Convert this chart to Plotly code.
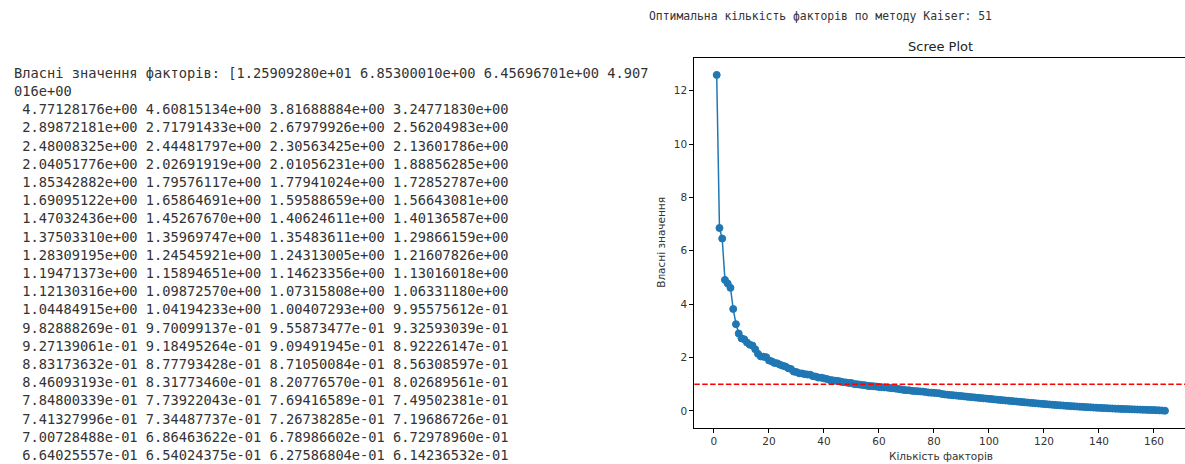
import plotly.graph_objects as go

# ---------------- data ----------------
eigenvalues = [
    12.5909280, 6.85300010, 6.45696701, 4.90750016,
    4.77128176, 4.60815134, 3.81688884, 3.24771830,
    2.89872181, 2.71791433, 2.67979926, 2.56204983,
    2.48008325, 2.44481797, 2.30563425, 2.13601786,
    2.04051776, 2.02691919, 2.01056231, 1.88856285,
    1.85342882, 1.79576117, 1.77941024, 1.72852787,
    1.69095122, 1.65864691, 1.59588659, 1.56643081,
    1.47032436, 1.45267670, 1.40624611, 1.40136587,
    1.37503310, 1.35969747, 1.35483611, 1.29866159,
    1.28309195, 1.24545921, 1.24313005, 1.21607826,
    1.19471373, 1.15894651, 1.14623356, 1.13016018,
    1.12130316, 1.09872570, 1.07315808, 1.06331180,
    1.04484915, 1.04194233, 1.00407293, 0.995575612,
    0.982888269, 0.970099137, 0.955873477, 0.932593039,
    0.927139061, 0.918495264, 0.909491945, 0.892226147,
    0.883173632, 0.877793428, 0.871050084, 0.856308597,
    0.846093193, 0.831773460, 0.820776570, 0.802689561,
    0.784800339, 0.773922043, 0.769416589, 0.749502381,
    0.741327996, 0.734487737, 0.726738285, 0.719686726,
    0.700728488, 0.686463622, 0.678986602, 0.672978960,
    0.664025557, 0.654024375, 0.627586804, 0.614236532,
    # values below (not printed in the visible text)
    0.603, 0.594, 0.582, 0.573, 0.561, 0.552, 0.541, 0.530,
    0.519, 0.510, 0.498, 0.489, 0.478, 0.468, 0.459, 0.449,
    0.439, 0.428, 0.418, 0.409, 0.398, 0.388, 0.379, 0.368, 0.358, 0.349,
    0.339, 0.330, 0.319, 0.310, 0.301, 0.291, 0.282, 0.272, 0.264, 0.255,
    0.246, 0.238, 0.229, 0.221, 0.213, 0.205, 0.197, 0.190, 0.182, 0.175,
    0.168, 0.161, 0.154, 0.148, 0.141, 0.135, 0.129, 0.123, 0.117, 0.112,
    0.106, 0.101, 0.096, 0.091, 0.086, 0.081, 0.077, 0.072, 0.068, 0.064,
    0.060, 0.056, 0.052, 0.048, 0.045, 0.041, 0.038, 0.034, 0.031, 0.027,
    0.022, 0.017, 0.011, 0.004,
]
factor_numbers = list(range(1, len(eigenvalues) + 1))
kaiser_threshold = 1.0
kaiser_count = sum(1 for v in eigenvalues if v > kaiser_threshold)

x_ticks = [0, 20, 40, 60, 80, 100, 120, 140, 160]
y_ticks = [0, 2, 4, 6, 8, 10, 12]

title_text = "Scree Plot"
x_label = "Кількість факторів"
y_label = "Власні значення"
kaiser_label = "Оптимальна кількість факторів по методу Kaiser: "
values_label = "Власні значення факторів: ["
visible_rows = 20

# ---------------- layout helpers ----------------
W, H = 1185, 464


def px(x):
    return x / W


def py(y):
    return 1 - y / H


# axes box in pixels (matplotlib-like 5% margins)
ax_left, ax_right = 694.3, 1187.4
ax_top, ax_bottom = 58.1, 427.5
n = len(eigenvalues)
x_lo = 1 - 0.05 * (n - 1)
x_hi = n + 0.05 * (n - 1)
x_vis_hi = x_lo + (W - ax_left) * (x_hi - x_lo) / (ax_right - ax_left)
ymin_d, ymax_d = min(eigenvalues), max(eigenvalues)
y_lo = ymin_d - 0.05 * (ymax_d - ymin_d)
y_hi = ymax_d + 0.05 * (ymax_d - ymin_d)

blue = "#1f77b4"
tick_font = dict(family="DejaVu Sans", size=10.5, color="#333333")

fig = go.Figure()
fig.add_trace(go.Scatter(
    x=factor_numbers, y=eigenvalues, mode="lines+markers",
    line=dict(color=blue, width=1.5),
    marker=dict(color=blue, size=7, line=dict(color=blue, width=1)),
    showlegend=False, hoverinfo="x+y",
))

fig.add_shape(type="line", xref="x domain", yref="y", x0=0, x1=1,
              y0=kaiser_threshold, y1=kaiser_threshold,
              line=dict(color="red", width=1.5, dash="5.5px,2.4px"),
              layer="above")

annotations = []
mono = "DejaVu Sans Mono"
text_color = "#333333"

# printed text (left)
fmt = [f"{v:.8e}" for v in eigenvalues]
first_line = values_label + " ".join(fmt[:4])
lines = [first_line[:77], fmt[3][-7:]]
for r in range(visible_rows):
    row = fmt[4 + 4 * r: 8 + 4 * r]
    lines.append(" " + " ".join(row))
for k, t in enumerate(lines):
    annotations.append(dict(
        x=px(12.0), y=py(72.8 + k * 18.2), xref="paper", yref="paper",
        text=t.replace(" ", "&nbsp;"), showarrow=False, xanchor="left", yanchor="middle",
        font=dict(family=mono, size=13.7, color=text_color),
    ))

# Kaiser text (top)
annotations.append(dict(
    x=px(646.5), y=py(16.5), xref="paper", yref="paper",
    text=(kaiser_label + str(kaiser_count)).replace(" ", "&nbsp;"),
    showarrow=False, xanchor="left", yanchor="middle",
    font=dict(family=mono, size=11.4, color=text_color),
))

# title and axis labels
annotations.append(dict(
    x=px((ax_left + ax_right) / 2), y=py(47.0), xref="paper", yref="paper",
    text=title_text, showarrow=False, xanchor="center", yanchor="middle",
    font=dict(family="DejaVu Sans", size=13, color="#222222"),
))
annotations.append(dict(
    x=px((ax_left + ax_right) / 2), y=py(455.5), xref="paper", yref="paper",
    text=x_label, showarrow=False, xanchor="center", yanchor="middle",
    font=dict(family="DejaVu Sans", size=10.5, color="#333333"),
))
annotations.append(dict(
    x=px(661), y=py((ax_top + ax_bottom) / 2), xref="paper", yref="paper",
    text=y_label, showarrow=False, xanchor="center", yanchor="middle",
    textangle=-90,
    font=dict(family="DejaVu Sans", size=10.5, color="#333333"),
))

fig.update_layout(
    width=W, height=H, autosize=False,
    margin=dict(l=0, r=0, t=0, b=0, pad=0),
    paper_bgcolor="white", plot_bgcolor="white",
    annotations=annotations,
    xaxis=dict(
        domain=[px(ax_left), 1.0], range=[x_lo, x_vis_hi],
        tickmode="array", tickvals=x_ticks, ticktext=[str(t) for t in x_ticks],
        ticks="outside", ticklen=4, tickwidth=1, tickcolor="black",
        showline=True, linecolor="black", linewidth=1, mirror=True,
        showgrid=False, zeroline=False, tickfont=tick_font,
    ),
    yaxis=dict(
        domain=[py(ax_bottom), py(ax_top)], range=[y_lo, y_hi],
        tickmode="array", tickvals=y_ticks, ticktext=[str(t) for t in y_ticks],
        ticks="outside", ticklen=4, tickwidth=1, tickcolor="black",
        showline=True, linecolor="black", linewidth=1, mirror=False,
        showgrid=False, zeroline=False, tickfont=tick_font,
    ),
)

fig.write_html("out.html")
